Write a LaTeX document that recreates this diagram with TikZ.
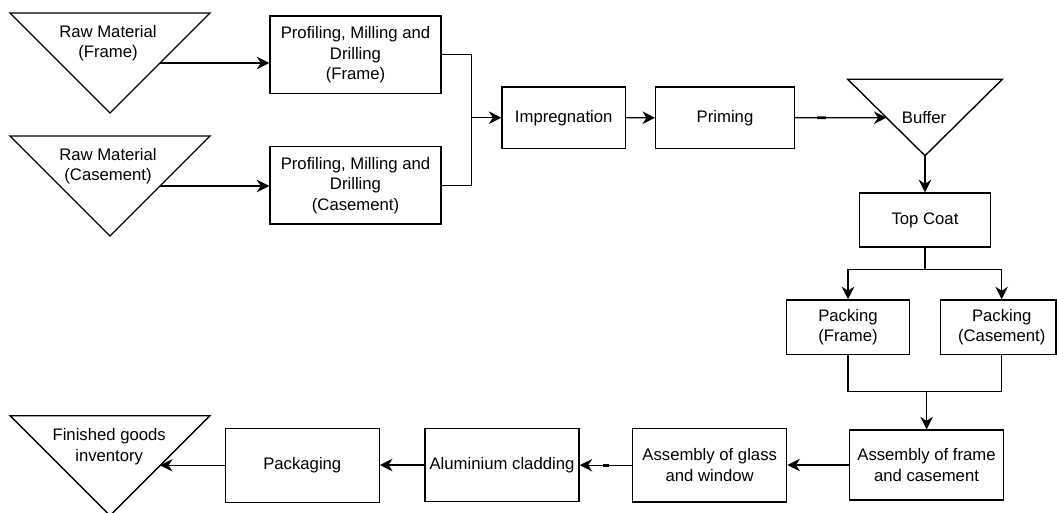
\documentclass[tikz,border=0pt]{standalone}
\usepackage{fontspec}
\setmainfont{Liberation Sans}
\usetikzlibrary{arrows.meta,decorations.markings}

\begin{document}
\begin{tikzpicture}[x=1pt,y=-1pt,
  every node/.style={font=\fontsize{16.7}{20.5}\selectfont, text=black, align=center, inner sep=0pt},
  box/.style={draw, line width=1.4pt},
  tri/.style={draw, line width=1.4pt, line join=miter},
  link/.style={line width=1.4pt},
  flow/.style={line width=1.4pt, -{Stealth[length=12.5pt,width=12.5pt,inset=4pt]}},
  nub/.style 2 args={postaction={decorate, decoration={markings,
      mark=at position #1 with {\draw[arrows=-, line width=2.6pt] (-#2,0pt) -- (#2,0pt);}}}}
]
\useasboundingbox (0,0) rectangle (1057,513);

% inventory triangles (pointing down)
\draw[tri] (10,13) -- (210,13) -- (110,113) -- cycle;
\node (rawf) at (108,43.3) {Raw Material\\(Frame)};
\coordinate (rawfout) at (160,63);

\draw[tri] (10,136) -- (210,136) -- (110,236) -- cycle;
\node (rawc) at (108,166) {Raw Material\\(Casement)};
\coordinate (rawcout) at (160,186);

\draw[tri] (847.7,79.3) -- (1002.3,79.3) -- (925,155.7) -- cycle;
\node (buffer) at (924,117.3) {Buffer};
\coordinate (bufin) at (886.5,117.7);
\coordinate (bufout) at (925,155.7);

\draw[tri] (10,415.7) -- (210,415.7) -- (110,515.7) -- cycle;
\node (fin) at (109.2,446.7) {Finished goods\\inventory};
\coordinate (finin) at (160,465.7);

% process steps
\node[box, minimum width=171pt, minimum height=77.3pt] (p1) at (355.5,54.7) {Profiling, Milling and\\Drilling\\(Frame)};
\node[box, minimum width=171pt, minimum height=77.3pt] (p2) at (355.5,185.3) {Profiling, Milling and\\Drilling\\(Casement)};
\node[box, minimum width=123.3pt, minimum height=61.3pt] (imp) at (563.7,117.7) {Impregnation};
\node[box, minimum width=138.6pt, minimum height=61.7pt] (prim) at (725,117.8) {Priming};
\node[box, minimum width=131.4pt, minimum height=54pt] (top) at (925,220) {Top Coat};
\node[box, minimum width=123.4pt, minimum height=54.7pt] (pf) at (848,327.3) {Packing\\(Frame)};
\node[box, minimum width=115.7pt, minimum height=54.7pt] (pc) at (998.2,327.3) {};
\node (pclabel) at (1001.7,327.3) {Packing\\(Casement)};
\node[box, minimum width=154.4pt, minimum height=70pt] (afc) at (926.5,465) {Assembly of frame\\and casement};
\node[box, minimum width=154pt, minimum height=73.7pt] (glass) at (709.7,465.2) {Assembly of glass\\and window};
\node[box, minimum width=154pt, minimum height=73.4pt] (alu) at (502,465) {Aluminium cladding};
\node[box, minimum width=154pt, minimum height=74pt] (pack) at (302.3,465.3) {Packaging};

% connectors
\draw[flow] (rawfout) -- (rawfout -| p1.west);
\draw[flow] (rawcout) -- (rawcout -| p2.west);

\coordinate (merge) at (471.7,117.7);
\draw[link] (p1.east) -- (p1.east -| merge) -- (p2.east -| merge) -- (p2.east);
\draw[flow] (merge) -- (imp.west);
\draw[flow] (imp.east) -- (prim.west);
\draw[flow, nub={0.29}{4.3pt}] (prim.east) -- (bufin);
\draw[flow] (bufout) -- (top.north);

\coordinate (split) at (925,269.3);
\draw[link] (top.south) -- (split);
\draw[flow] (split) -| (pf.north);
\draw[flow] (split) -| (pc.north -| pclabel);

\coordinate (join) at (926.6,391.7);
\draw[link] (pf.south) |- (join);
\draw[link] (pc.south -| pclabel) |- (join);
\draw[flow] (join) -- (join |- afc.north);

\draw[flow] (afc.west) -- (afc.west -| glass.east);
\draw[flow, nub={0.5}{3.3pt}] (glass.west) -- (glass.west -| alu.east);
\draw[flow, nub={0.49}{7.5pt}] (alu.west) -- (alu.west -| pack.east);
\draw[flow] (pack.west) -- (pack.west -| finin);
\end{tikzpicture}
\end{document}
